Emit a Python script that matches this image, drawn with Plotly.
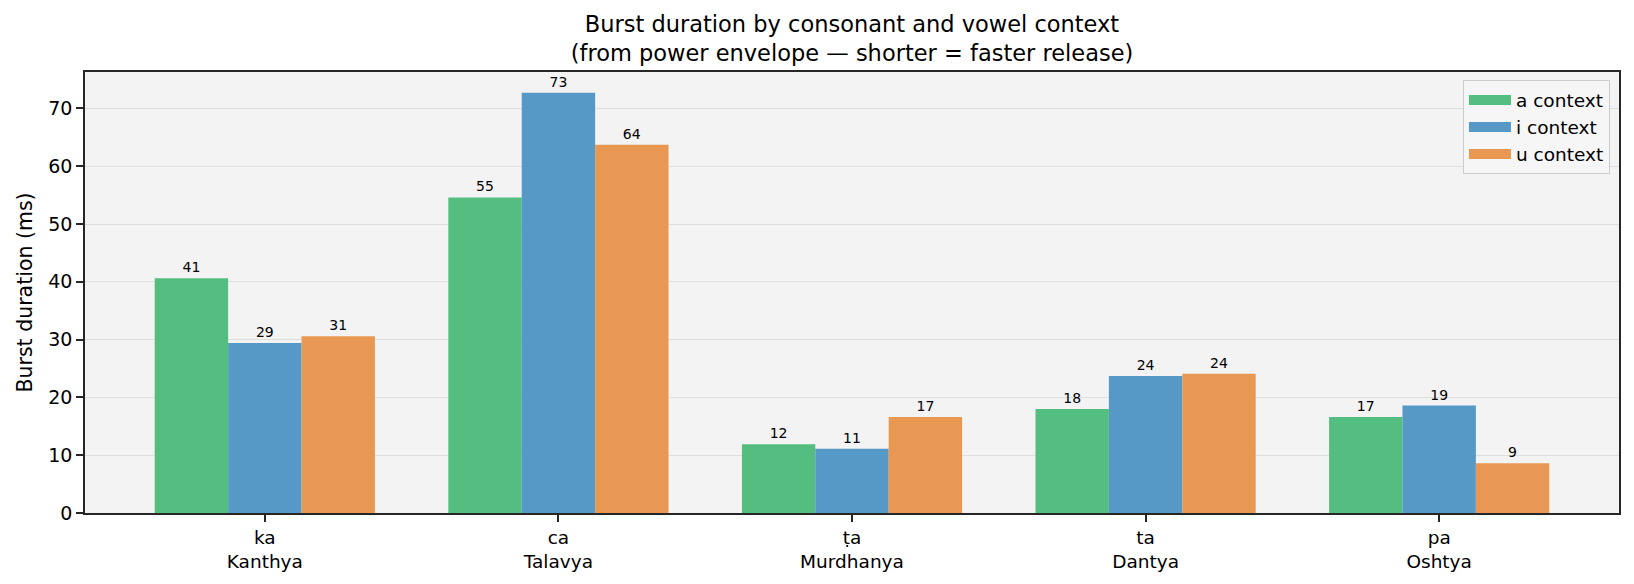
import plotly.graph_objects as go

# ---- data ----
categories = ["ka<br>Kanthya", "ca<br>Talavya", "ṭa<br>Murdhanya", "ta<br>Dantya", "pa<br>Oshtya"]
a_context = [40.6, 54.6, 11.9, 18.0, 16.6]
i_context = [29.4, 72.7, 11.1, 23.7, 18.6]
u_context = [30.6, 63.7, 16.6, 24.1, 8.6]
series_names = ["a context", "i context", "u context"]
y_ticks = [0, 10, 20, 30, 40, 50, 60, 70]

colors = ["rgb(84,190,128)", "rgb(86,153,198)", "rgb(232,152,82)"]
FONT = "DejaVu Sans"

fig = go.Figure()
for name, vals, col in zip(series_names, [a_context, i_context, u_context], colors):
    fig.add_trace(go.Bar(
        x=categories, y=vals, name=name, marker=dict(color=col, line=dict(width=0)),
        texttemplate="%{y:.0f}", textposition="outside",
        textfont=dict(family=FONT, size=14, color="black"),
        cliponaxis=False, showlegend=False,
    ))
# legend entries drawn as wide patches
for name, col in zip(series_names, colors):
    fig.add_trace(go.Scatter(
        x=[None], y=[None], mode="lines", name=name,
        line=dict(color=col, width=13), showlegend=True,
    ))

fig.update_layout(
    width=1634, height=584,
    margin=dict(l=85, r=15, t=72, b=71),
    paper_bgcolor="white", plot_bgcolor="#F3F3F3",
    font=dict(family=FONT, color="black"),
    barmode="group", bargap=0.25, bargroupgap=0,
    title=dict(
        text="Burst duration by consonant and vowel context<br>(from power envelope — shorter = faster release)",
        x=0.5, xref="paper", xanchor="center",
        y=1 - 32 / 584, yref="container", yanchor="middle",
        font=dict(family=FONT, size=22.5, color="black"),
    ),
    legend=dict(
        x=0.9941, xanchor="right", y=0.981, yanchor="top",
        bgcolor="rgba(246,246,246,0.9)", bordercolor="#CCCCCC", borderwidth=1,
        font=dict(family=FONT, size=18.5, color="black"),
        tracegroupgap=0, itemwidth=42,
    ),
    xaxis=dict(
        type="category", range=[-0.6125, 4.6125],
        showgrid=False, zeroline=False,
        showline=True, linecolor="#262626", linewidth=1.6, mirror=True,
        ticks="outside", ticklen=7, tickwidth=1.6, tickcolor="#262626",
        tickfont=dict(family=FONT, size=18.5, color="black"),
    ),
    yaxis=dict(
        range=[0, 76.3], tickvals=y_ticks,
        showgrid=True, gridcolor="rgba(190,190,190,0.4)", gridwidth=1.2,
        zeroline=False,
        showline=True, linecolor="#262626", linewidth=1.6, mirror=True,
        ticks="outside", ticklen=7, tickwidth=1.6, tickcolor="#262626",
        tickfont=dict(family=FONT, size=19, color="black"),
        title=dict(text="Burst duration (ms)", standoff=10,
                   font=dict(family=FONT, size=20.5, color="black")),
        layer="above traces",
    ),
)

fig.write_html("out.html")
